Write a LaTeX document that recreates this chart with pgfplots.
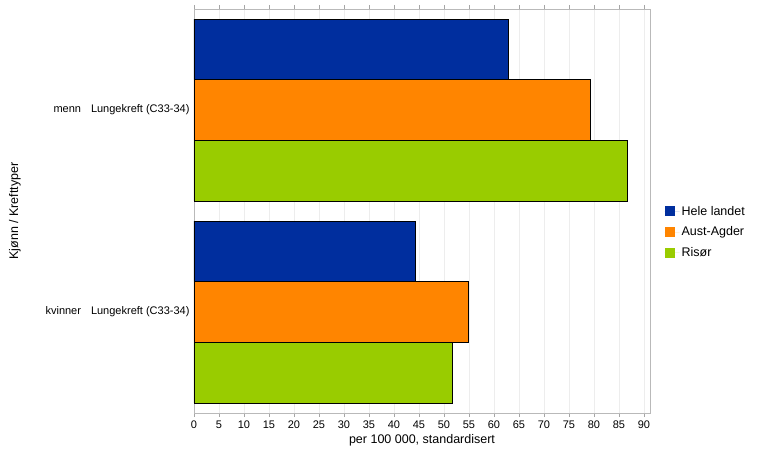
\documentclass[border=0pt]{standalone}
\usepackage{fontspec}
\setmainfont{Liberation Sans}
\usepackage{pgfplots}
\pgfplotsset{compat=1.18}
\definecolor{hele}{RGB}{0,46,158}
\definecolor{aust}{RGB}{255,133,0}
\definecolor{risor}{RGB}{153,204,0}
\begin{document}
\begin{tikzpicture}
\begin{axis}[
  scale only axis, width=456pt, height=404pt,
  xmin=0, xmax=91.2, ymin=-0.5, ymax=1.5,
  xbar, bar width=0.3,
  xtick={0,5,...,90}, ytick={0,1},
  yticklabels={kvinner\hspace{10pt}Lungekreft (C33-34), menn\hspace{10pt}Lungekreft (C33-34)},
  xmajorgrids, grid style={gray!14},
  axis line style={gray!55},
  tick align=outside, major tick length=4pt,
  xtick style={gray!70}, ytick style={draw=none},
  tick label style={font=\fontsize{11}{13}\selectfont},
  yticklabel style={xshift=3pt},
  /pgf/number format/assume math mode=true,
  xlabel={per 100 000, standardisert},
  ylabel={Kjønn / Krefttyper},
  label style={font=\fontsize{12.5}{14}\selectfont},
  xlabel style={at={(axis description cs:0.5,-0.067)}, anchor=center},
  ylabel style={at={(axis description cs:-0.393,0.5)}, anchor=center},
  legend cell align=left,
  legend style={at={(axis description cs:1.025,0.448)}, anchor=west, draw=none, fill=none,
    font=\fontsize{12.5}{14}\selectfont, row sep=6pt},
  legend image code/.code={\fill[#1, draw=none] (0pt,-5pt) rectangle (10pt,5pt); \path[draw=none] (0pt,0pt) -- (15pt,0pt);},
]
\addplot[fill=hele, draw=black, bar shift=0.3] coordinates {(62.9,1) (44.3,0)};
\addplot[fill=aust, draw=black, bar shift=0] coordinates {(79.2,1) (54.9,0)};
\addplot[fill=risor, draw=black, bar shift=-0.3] coordinates {(86.6,1) (51.7,0)};
\legend{Hele landet, Aust-Agder, Risør}
\end{axis}
\pgfresetboundingbox
\path ([shift={(-194pt,-44pt)}]current axis.south west) rectangle ([shift={(111pt,9pt)}]current axis.north east);
\end{tikzpicture}
\end{document}
